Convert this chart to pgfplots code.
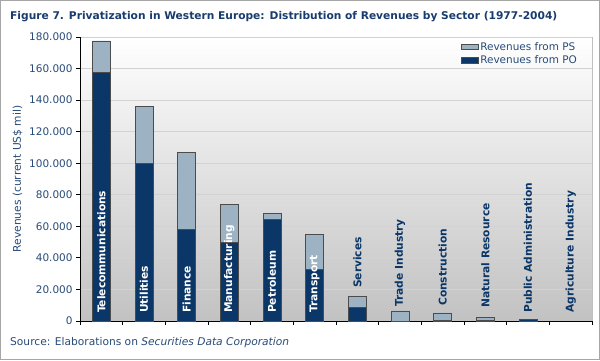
\documentclass[border=0pt]{standalone}
\usepackage{pgfplots}
\pgfplotsset{compat=1.18}
\usepackage{fontspec}
\setmainfont{DejaVu Sans}
\definecolor{navy}{RGB}{10,54,104}
\definecolor{lightb}{RGB}{157,179,196}
\definecolor{txtblue}{RGB}{40,75,120}
\definecolor{titleblue}{RGB}{25,60,110}
\begin{document}
\begin{tikzpicture}[x=1bp,y=1bp]
\useasboundingbox (0,0) rectangle (600,360);
\fill[white] (0,0) rectangle (600,360);
\draw[gray!70, line width=1bp] (0.5,0.5) rectangle (599.5,359.5);
\node[anchor=west, inner sep=0, font=\bfseries\fontsize{10.7}{13}\selectfont, text=titleblue] at (10,343) {Figure 7. Privatization in Western Europe: Distribution of Revenues by Sector (1977-2004)};
\node[anchor=west, inner sep=0, font=\fontsize{10.7}{12}\selectfont, text=txtblue] at (10,17) {Source: Elaborations on \textit{Securities Data Corporation}};
\begin{axis}[at={(80bp,39bp)}, anchor=south west, scale only axis,
  width=512bp, height=284bp,
  ybar stacked, bar width=18bp,
  xmin=-0.5, xmax=11.5, ymin=0, ymax=180000,
  xtick={-0.5,0.5,...,11.5}, xticklabels={},
  ytick={0,20000,...,180000},
  scaled y ticks=false,
  axis x line*=bottom, axis y line*=left,
  axis line style={black, line width=0.8bp},
  axis background/.style={top color=white, bottom color=black!24, draw=gray!50},
  tick align=outside, major tick length=4bp,
  tick style={black, line width=0.8bp},
  ymajorgrids, grid style={gray!35, line width=0.8bp},
  yticklabel style={text=txtblue, font=\fontsize{10.5}{12}\selectfont},
  /pgf/number format/.cd, fixed, 1000 sep={.}, assume math mode=true,
  /pgfplots/.cd,
  ylabel={Revenues (current US\$ mil)},
  ylabel style={text=txtblue, font=\fontsize{10.7}{12}\selectfont},
  reverse legend,
  legend style={draw=none, fill=none, font=\fontsize{10.5}{12}\selectfont, text=txtblue,
    at={(1,1)}, xshift=-10bp, yshift=-1bp, anchor=north east,
    cells={anchor=west}, row sep=0bp},
  area legend,
]
\addplot[fill=navy, draw=black!70, line width=0.6bp] coordinates {
 (0,157400) (1,99900) (2,58100) (3,49900) (4,64400) (5,32700)
 (6,8400) (7,0) (8,600) (9,200) (10,1000) (11,0)};
\addlegendentry{Revenues from PO}
\addplot[fill=lightb, draw=black!70, line width=0.6bp] coordinates {
 (0,20100) (1,35900) (2,48600) (3,24100) (4,3600) (5,22200)
 (6,7000) (7,6400) (8,4600) (9,1900) (10,0) (11,0)};
\addlegendentry{Revenues from PS}
\coordinate (l0) at (axis cs:0,5000);
\coordinate (l1) at (axis cs:1,5000);
\coordinate (l2) at (axis cs:2,5000);
\coordinate (l3) at (axis cs:3,5000);
\coordinate (l4) at (axis cs:4,5000);
\coordinate (l5) at (axis cs:5,5000);
\coordinate (l6) at (axis cs:6,20900);
\coordinate (l7) at (axis cs:7,9000);
\coordinate (l8) at (axis cs:8,9500);
\coordinate (l9) at (axis cs:9,8400);
\coordinate (l10) at (axis cs:10,5100);
\coordinate (l11) at (axis cs:11,5200);
\end{axis}
\tikzset{lab/.style={rotate=90, anchor=west, inner sep=0, font=\bfseries\fontsize{10.7}{12}\selectfont}}
\node[lab, text=white] at (l0) {Telecommunications};
\node[lab, text=white] at (l1) {Utilities};
\node[lab, text=white] at (l2) {Finance};
\node[lab, text=white] at (l3) {Manufacturing};
\node[lab, text=white] at (l4) {Petroleum};
\node[lab, text=white] at (l5) {Transport};
\node[lab, text=navy] at (l6) {Services};
\node[lab, text=navy] at (l7) {Trade Industry};
\node[lab, text=navy] at (l8) {Construction};
\node[lab, text=navy] at (l9) {Natural Resource};
\node[lab, text=navy] at (l10) {Public Administration};
\node[lab, text=navy] at (l11) {Agriculture Industry};
\end{tikzpicture}
\end{document}
